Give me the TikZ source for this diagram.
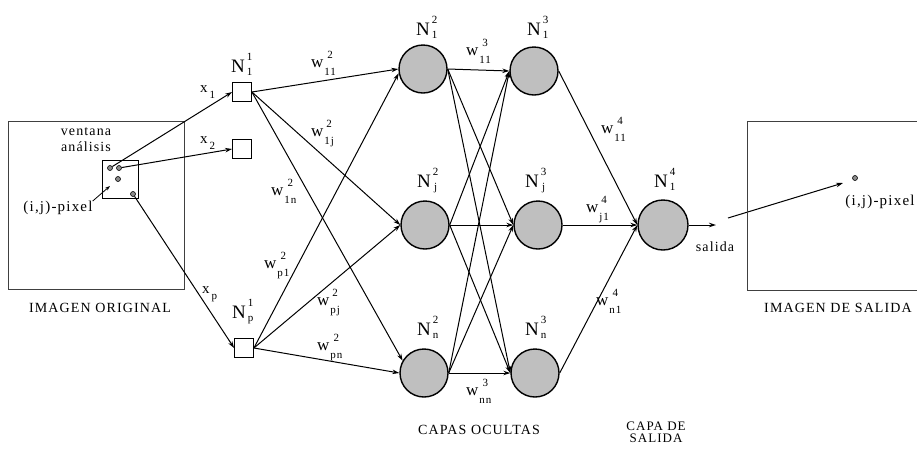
\documentclass[tikz,border=0pt]{standalone}
\usepackage{fontspec}
\setmainfont[LetterSpace=8]{Liberation Serif}
\usetikzlibrary{arrows.meta}
\newcommand\Nlab[2]{{\fontsize{19}{19}\selectfont N}\hspace{2pt}\raisebox{-3pt}{\fontsize{11}{11}\selectfont\begin{tabular}[b]{@{}c@{}}#1\\[4pt]#2\end{tabular}}}
\newcommand\wlab[2]{{\fontsize{17}{17}\selectfont w}\hspace{1pt}\raisebox{-8pt}{\fontsize{11}{11}\selectfont\begin{tabular}[b]{@{}c@{}}#1\\[6pt]#2\end{tabular}}}
\newcommand\xlab[1]{{\fontsize{15}{15}\selectfont x}\hspace{2pt}\raisebox{-6pt}{\fontsize{11}{11}\selectfont #1}}
\tikzset{
  inbox/.style={draw, line width=0.8pt, minimum size=19pt, inner sep=0},
  neuron/.style={circle, draw, line width=1.4pt, fill=black!25, minimum size=48pt, inner sep=0},
  conn/.style={line width=1pt, -{Stealth[length=7pt,width=4.5pt]}},
  lbl/.style={anchor=base west, inner sep=0},
  txt/.style={inner sep=0, font=\fontsize{14}{16}\selectfont, align=center},
  pixtxt/.style={inner sep=0, font=\fontsize{15}{17}\selectfont},
  pix/.style={circle, draw, line width=0.6pt, fill=black!45, minimum size=5pt, inner sep=0},
}
\begin{document}
\begin{tikzpicture}[x=1pt,y=-1pt]
\useasboundingbox (0,0) rectangle (917,448);
% left image
\node[draw=black!75, line width=1pt, minimum width=176pt, minimum height=168pt, inner sep=0] (img) at (96,205) {};
\node[draw, line width=0.8pt, minimum width=36pt, minimum height=38pt, inner sep=0] (win) at (120,179) {};
\node[txt] (vent) at (86,140) {ventana\\análisis};
\node[pix] (d1) at (110,168) {};
\node[pix] (d2) at (119,168) {};
\node[pix] (d3) at (118,179) {};
\node[pix] (d4) at (133,194) {};
\coordinate (pt) at (110,186);
\node[pixtxt] (ijl) at (58,208) {(i,j)-pixel};
\draw[line width=0.8pt, -{Stealth[length=5pt,width=3.5pt]}] (ijl.north east) -- (pt);
\node[txt] (l1) at (100,308) {IMAGEN ORIGINAL};
% input layer
\node[inbox] (i1) at (242,92) {};
\node[inbox] (i2) at (242,149) {};
\node[inbox] (ip) at (244,348) {};
\node[lbl] at (231,72) {\Nlab{1}{1}};
\node[lbl] at (232,318) {\Nlab{1}{p}};
\node[lbl] at (200,92) {\xlab{1}};
\node[lbl] at (200,143) {\xlab{2}};
\node[lbl] at (202,293) {\xlab{p}};
\draw[conn] (d1) -- (i1.west);
\draw[conn] (d2) -- (i2.west);
\draw[conn] (d4) -- (ip.west);
% hidden layers
\node[neuron] (a1) at (423,69) {};
\node[neuron] (aj) at (425,225) {};
\node[neuron] (an) at (424,373) {};
\node[neuron] (b1) at (534,71) {};
\node[neuron] (bj) at (538,225) {};
\node[neuron] (bn) at (535,373) {};
\node[neuron, minimum size=50pt] (o) at (663,225) {};
\node[lbl] at (416,35) {\Nlab{2}{1}};
\node[lbl] at (417,187) {\Nlab{2}{j}};
\node[lbl] at (417,335) {\Nlab{2}{n}};
\node[lbl] at (527,35) {\Nlab{3}{1}};
\node[lbl] at (525,187) {\Nlab{3}{j}};
\node[lbl] at (525,335) {\Nlab{3}{n}};
\node[lbl] at (654,187) {\Nlab{4}{1}};
% layer 1 -> 2
\draw[conn] (i1.east) -- (a1.west);
\draw[conn] (i1.east) -- (aj.west);
\draw[conn] (i1.east) -- (an.150);
\draw[conn] (ip.east) -- (a1.190);
\draw[conn] (ip.east) -- (aj.west);
\draw[conn] (ip.east) -- (an.west);
\node[lbl] at (311,67) {\wlab{2}{11}};
\node[lbl] at (311,136) {\wlab{2}{1j}};
\node[lbl] at (271,195) {\wlab{2}{1n}};
\node[lbl] at (264,268) {\wlab{2}{p1}};
\node[lbl] at (317,305) {\wlab{2}{pj}};
\node[lbl] at (317,350) {\wlab{2}{pn}};
% layer 2 -> 3
\foreach \s in {a1,aj,an}{
  \foreach \t in {b1,bj,bn}{
    \draw[conn] (\s.east) -- (\t.west);
  }
}
\node[lbl] at (466,55) {\wlab{3}{11}};
\node[lbl] at (466,395) {\wlab{3}{nn}};
% layer 3 -> 4
\foreach \s in {b1,bj,bn}{
  \draw[conn] (\s.east) -- (o.west);
}
\node[lbl] at (601,133) {\wlab{4}{11}};
\node[lbl] at (586,212) {\wlab{4}{j1}};
\node[lbl] at (596,305) {\wlab{4}{n1}};
% output
\coordinate (oe) at (716,225);
\draw[conn] (o.east) -- (oe);
\node[txt] (sal) at (715,247) {salida};
\coordinate (st) at (728,218);
\node[pix] (q) at (855,178) {};
\coordinate (qe) at (843,183);
\draw[conn] (st) -- (qe);
\draw[draw=black!75, line width=1pt] (917,121) -- (747,121) -- (747,290) -- (917,290);
\node[pixtxt] (ijr) at (880,202) {(i,j)-pixel};
\node[txt] (l2) at (838,308) {IMAGEN DE SALIDA};
\node[txt] (l3) at (479,430) {CAPAS OCULTAS};
\node[txt, font=\fontsize{13}{12}\selectfont] (l4) at (656,432) {CAPA DE\\SALIDA};
\end{tikzpicture}
\end{document}
